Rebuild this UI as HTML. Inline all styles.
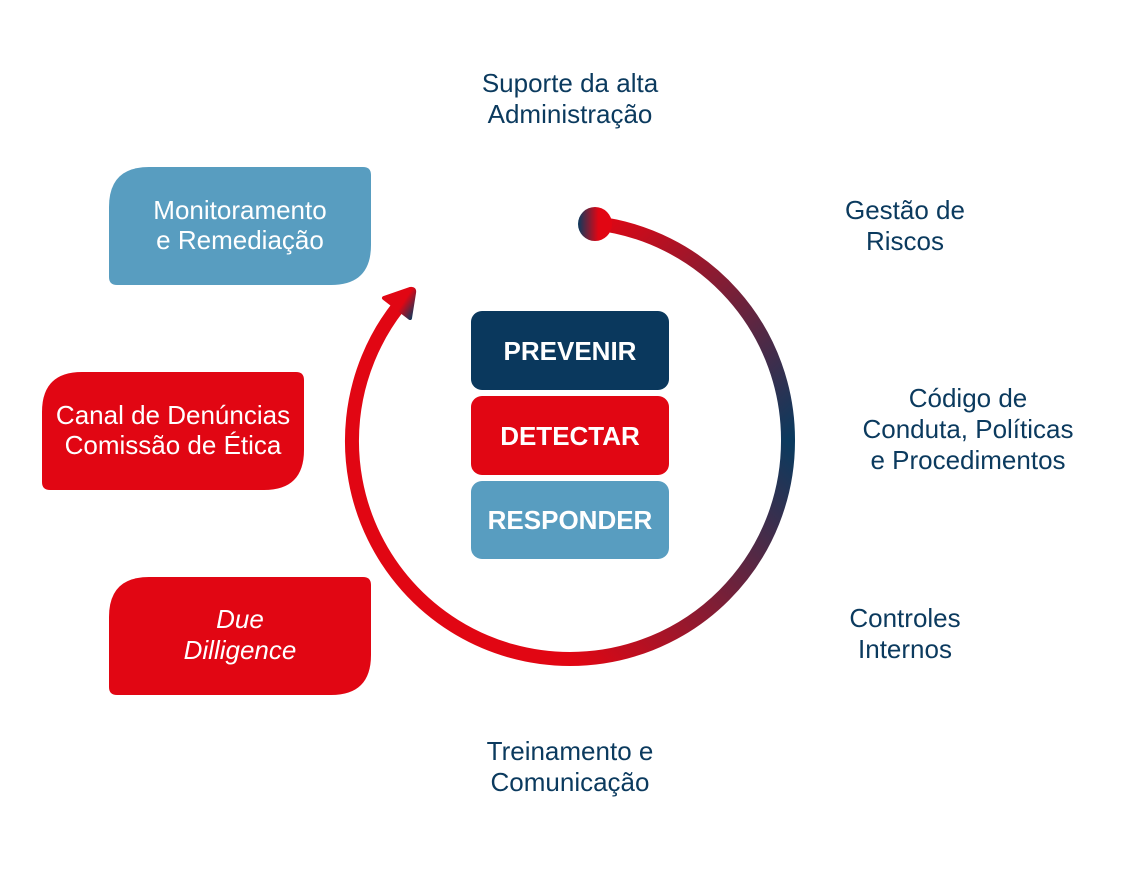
<!DOCTYPE html>
<html><head><meta charset="utf-8"><style>
html,body{margin:0;padding:0;background:#fff;}
svg{display:block;}
text{font-family:"Liberation Sans",sans-serif;}
.n{fill:#0b3a5e;font-size:26px;text-anchor:middle;}
.w{fill:#fff;font-size:26px;text-anchor:middle;}
.b{fill:#fff;font-size:26px;font-weight:bold;text-anchor:middle;}
</style></head><body>
<svg width="1142" height="871" viewBox="0 0 1142 871" xmlns="http://www.w3.org/2000/svg">
<defs>
<linearGradient id="g1" gradientUnits="userSpaceOnUse" x1="594" y1="223" x2="788" y2="441"><stop offset="0" stop-color="#e10613"/><stop offset="1" stop-color="#0b3a5e"/></linearGradient>
<linearGradient id="g2" gradientUnits="userSpaceOnUse" x1="788" y1="441" x2="570" y2="659"><stop offset="0" stop-color="#0b3a5e"/><stop offset="1" stop-color="#e10613"/></linearGradient>
<linearGradient id="g3" gradientUnits="userSpaceOnUse" x1="385" y1="300" x2="413" y2="318"><stop offset="0" stop-color="#e10613"/><stop offset="0.5" stop-color="#e10613"/><stop offset="1" stop-color="#0b3a5e"/></linearGradient>
<linearGradient id="gd" x1="0" y1="0" x2="1" y2="0"><stop offset="0" stop-color="#0b3a5e"/><stop offset="0.6" stop-color="#e10613"/></linearGradient>
</defs>
<!-- side boxes -->
<path d="M149,167 H363 Q371,167 371,175 V245 Q371,285 331,285 H117 Q109,285 109,277 V207 Q109,167 149,167 Z" fill="#589dc0"/>
<path d="M82,372 H296 Q304,372 304,380 V450 Q304,490 264,490 H50 Q42,490 42,482 V412 Q42,372 82,372 Z" fill="#e10613"/>
<path d="M149,577 H363 Q371,577 371,585 V655 Q371,695 331,695 H117 Q109,695 109,687 V617 Q109,577 149,577 Z" fill="#e10613"/>
<text class="w" x="240" y="219">Monitoramento</text>
<text class="w" x="240" y="249">e Remediação</text>
<text class="w" x="173" y="424">Canal de Denúncias</text>
<text class="w" x="173" y="454">Comissão de Ética</text>
<text class="w" x="240" y="628" font-style="italic">Due</text>
<text class="w" x="240" y="659" font-style="italic">Dilligence</text>
<!-- arc -->
<path d="M594,223 A218,218 0 0 1 788,441" fill="none" stroke="url(#g1)" stroke-width="14"/>
<path d="M788,441 A218,218 0 0 1 570,659" fill="none" stroke="url(#g2)" stroke-width="14"/>
<path d="M570,659 A218,218 0 0 1 398,307" fill="none" stroke="#e10613" stroke-width="14"/>
<path d="M384,298 L410,289 Q415,288 414,293 L410,318 Z" fill="url(#g3)" stroke="url(#g3)" stroke-width="4" stroke-linejoin="round"/>
<circle cx="595" cy="224" r="17" fill="url(#gd)"/>
<!-- center boxes -->
<rect x="471" y="311" width="198" height="79" rx="11" fill="#0a385d"/>
<rect x="471" y="396" width="198" height="79" rx="11" fill="#e10613"/>
<rect x="471" y="481" width="198" height="78" rx="11" fill="#589dc0"/>
<text class="b" x="570" y="360">PREVENIR</text>
<text class="b" x="570" y="445">DETECTAR</text>
<text class="b" x="570" y="529">RESPONDER</text>
<!-- labels -->
<text class="n" x="570" y="92">Suporte da alta</text>
<text class="n" x="570" y="123">Administração</text>
<text class="n" x="905" y="219">Gestão de</text>
<text class="n" x="905" y="250">Riscos</text>
<text class="n" x="968" y="407">Código de</text>
<text class="n" x="968" y="438">Conduta, Políticas</text>
<text class="n" x="968" y="469">e Procedimentos</text>
<text class="n" x="905" y="627">Controles</text>
<text class="n" x="905" y="658">Internos</text>
<text class="n" x="570" y="760">Treinamento e</text>
<text class="n" x="570" y="791">Comunicação</text>
</svg>
</body></html>
